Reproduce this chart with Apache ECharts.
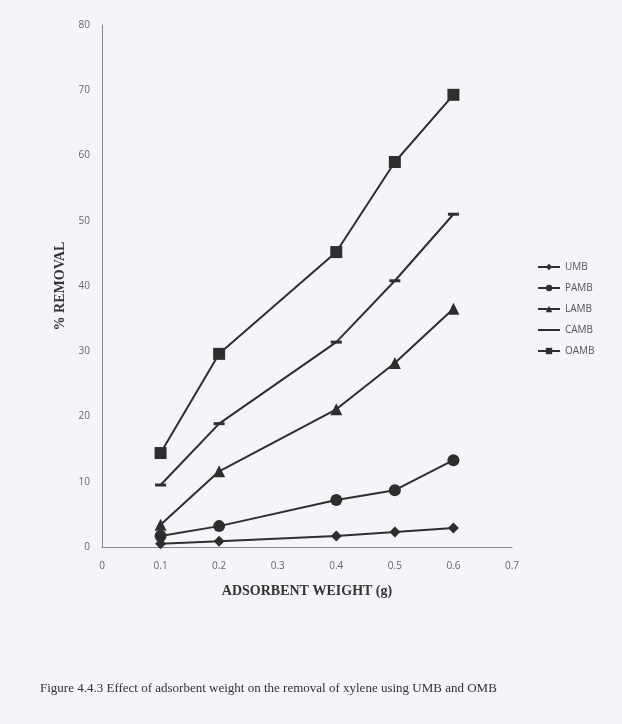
<!DOCTYPE html>
<html>
<head>
<meta charset="utf-8">
<script src="https://cdn.jsdelivr.net/npm/echarts@6/dist/echarts.min.js"></script>
<style>
  html, body { margin: 0; padding: 0; background: #f3f5f8; }
  #chart { width: 622px; height: 724px; }
</style>
</head>
<body>
<div id="chart"></div>
<script>
// adsorbent weight (g)
const weights = [0.1, 0.2, 0.4, 0.5, 0.6];
// % removal
const umb = [0.5, 0.9, 1.7, 2.3, 2.9];
const pamb = [1.7, 3.2, 7.2, 8.7, 13.3];
const lamb = [3.4, 11.6, 21.1, 28.2, 36.5];
const camb = [9.5, 18.9, 31.4, 40.8, 51.0];
const oamb = [14.4, 29.6, 45.2, 59.0, 69.3];

const chart = echarts.init(document.getElementById("chart"));

function pts(vals) {
  return weights.map((w, i) => [w, vals[i]]);
}

function mk(name, vals, symbol, size) {
  return {
    name: name,
    type: "line",
    data: pts(vals),
    symbol: symbol,
    symbolSize: size,
    showAllSymbol: true,
    lineStyle: { color: "#2e2e2e", width: 2 },
    itemStyle: { color: "#2e2e2e" },
    emphasis: { disabled: true },
    z: 3,
  };
}

const option = {
  animation: false,
  backgroundColor: "#f3f5f8",
  grid: { left: 102, top: 25, width: 410, height: 522, containLabel: false },
  xAxis: {
    type: "value",
    min: 0,
    max: 0.7,
    interval: 0.1,
    axisLine: { show: true, lineStyle: { color: "#888", width: 1 } },
    axisTick: { show: false },
    splitLine: { show: false },
    axisLabel: { color: "#666", fontSize: 10, margin: 14, fontFamily: "Open Sans" },
    name: "ADSORBENT WEIGHT (g)",
    nameLocation: "middle",
    nameGap: 37,
    nameTextStyle: { fontFamily: "Liberation Serif", fontWeight: "bold", fontSize: 14, color: "#333" },
  },
  yAxis: {
    type: "value",
    min: 0,
    max: 80,
    interval: 10,
    axisLine: { show: true, lineStyle: { color: "#888", width: 1 } },
    axisTick: { show: false },
    splitLine: { show: false },
    axisLabel: { color: "#666", fontSize: 10, margin: 12, fontFamily: "Open Sans" },
    name: "% REMOVAL",
    nameLocation: "middle",
    nameGap: 32,
    nameTextStyle: { fontFamily: "Liberation Serif", fontWeight: "bold", fontSize: 14, color: "#333" },
  },
  legend: {
    orient: "vertical",
    left: 532,
    top: 257,
    itemWidth: 22,
    itemHeight: 8,
    itemGap: 11,
    textStyle: { color: "#555", fontSize: 10, fontFamily: "Open Sans" },
    data: [
      "UMB",
      "PAMB",
      "LAMB",
      { name: "CAMB", itemStyle: { opacity: 0 } },
      "OAMB",
    ],
  },
  graphic: [
    {
      type: "text",
      left: 40,
      top: 682,
      style: {
        text: "Figure 4.4.3 Effect of adsorbent weight on the removal of xylene using UMB and OMB",
        fontFamily: "Liberation Serif",
        fontSize: 13,
        fill: "#333",
      },
    },
  ],
  series: [
    mk("UMB", umb, "diamond", 11),
    mk("PAMB", pamb, "circle", 12),
    mk("LAMB", lamb, "triangle", 12),
    mk("CAMB", camb, "rect", [11, 3]),
    mk("OAMB", oamb, "rect", 12),
  ],
};

chart.setOption(option);
</script>
</body>
</html>
